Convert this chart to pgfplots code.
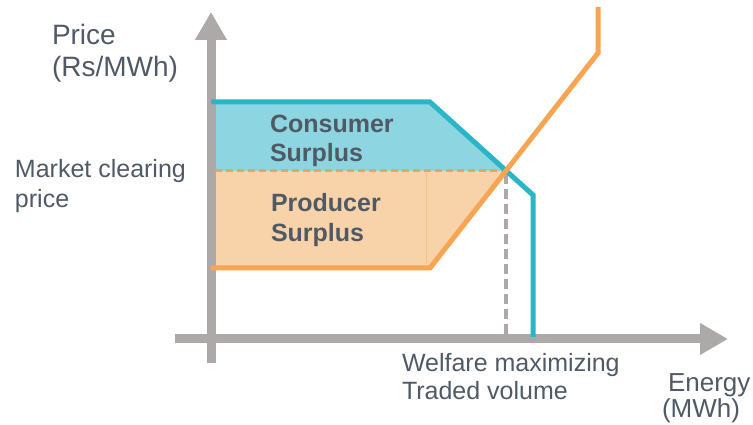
\documentclass[border=0pt]{standalone}
\usepackage{pgfplots}
\pgfplotsset{compat=1.18}
\usetikzlibrary{arrows.meta}
\usepackage{fontspec}
\setmainfont{Liberation Sans}

\definecolor{demand}{HTML}{2BB5C7}
\definecolor{supply}{HTML}{F7A552}
\definecolor{csfill}{HTML}{8DD5E1}
\definecolor{psfill}{HTML}{F8D3A9}
\definecolor{axgray}{HTML}{ADA9A8}
\definecolor{txt}{HTML}{505A66}
\definecolor{pricedash}{HTML}{D6A97C}

\tikzset{lbl/.style={inner sep=0pt, outer sep=0pt, text=txt, anchor=base west}}

\begin{document}
\begin{tikzpicture}
\begin{axis}[
    width=753pt, height=425pt, scale only axis,
    xmin=-211, xmax=542, ymin=-86, ymax=339,
    hide axis, clip=false,
]
% keep the full canvas in the bounding box
\path (rel axis cs:0,0) rectangle (rel axis cs:1,1);

% surplus areas
\addplot[fill=csfill, draw=none] coordinates {(4,237) (219,237) (295,168) (4,168)} \closedcycle;
\addplot[fill=psfill, draw=none] coordinates {(4,168) (295,168) (219,71) (4,71)} \closedcycle;
\addplot[supply!70, line width=0.8pt] coordinates {(215,168) (215,75)};

% axes
\addplot[axgray, line width=9pt, -{Triangle[length=28pt,width=30pt]}] coordinates {(0,-24) (0,327)};
\addplot[axgray, line width=9pt, -{Triangle[length=28pt,width=30pt]}] coordinates {(-36,0) (517,0)};

% clearing price and volume
\addplot[pricedash, line width=3pt, dash pattern=on 7pt off 4pt] coordinates {(4,168) (295,168)};
\addplot[axgray, line width=4pt, dash pattern=on 10pt off 5pt] coordinates {(295,165) (295,4)};

% demand and supply
\addplot[demand, line width=5pt] coordinates {(0,237) (219,237) (322,144) (322,2)};
\addplot[supply, line width=5pt] coordinates {(0,71) (219,71) (387,286) (387,332)};

% labels
\node[lbl, font=\fontsize{28}{32}\selectfont] at (axis cs:-159,294) {Price};
\node[lbl, font=\fontsize{28}{32}\selectfont] at (axis cs:-159,262) {(Rs/MWh)};
\node[lbl, font=\fontsize{25}{30}\selectfont] at (axis cs:-196,161) {Market clearing};
\node[lbl, font=\fontsize{25}{30}\selectfont] at (axis cs:-196,131) {price};
\node[lbl, font=\fontsize{25}{30}\selectfont\bfseries] at (axis cs:59,206) {Consumer};
\node[lbl, font=\fontsize{25}{30}\selectfont\bfseries] at (axis cs:59,177) {Surplus};
\node[lbl, font=\fontsize{25}{30}\selectfont\bfseries] at (axis cs:60,127) {Producer};
\node[lbl, font=\fontsize{25}{30}\selectfont\bfseries] at (axis cs:60,97) {Surplus};
\node[lbl, font=\fontsize{25}{30}\selectfont] at (axis cs:191,-33) {Welfare maximizing};
\node[lbl, font=\fontsize{25}{30}\selectfont] at (axis cs:191,-61) {Traded volume};
\node[lbl, font=\fontsize{26}{30}\selectfont] at (axis cs:457,-53) {Energy};
\node[lbl, font=\fontsize{26}{30}\selectfont] at (axis cs:451,-79) {(MWh)};
\end{axis}
\end{tikzpicture}
\end{document}
